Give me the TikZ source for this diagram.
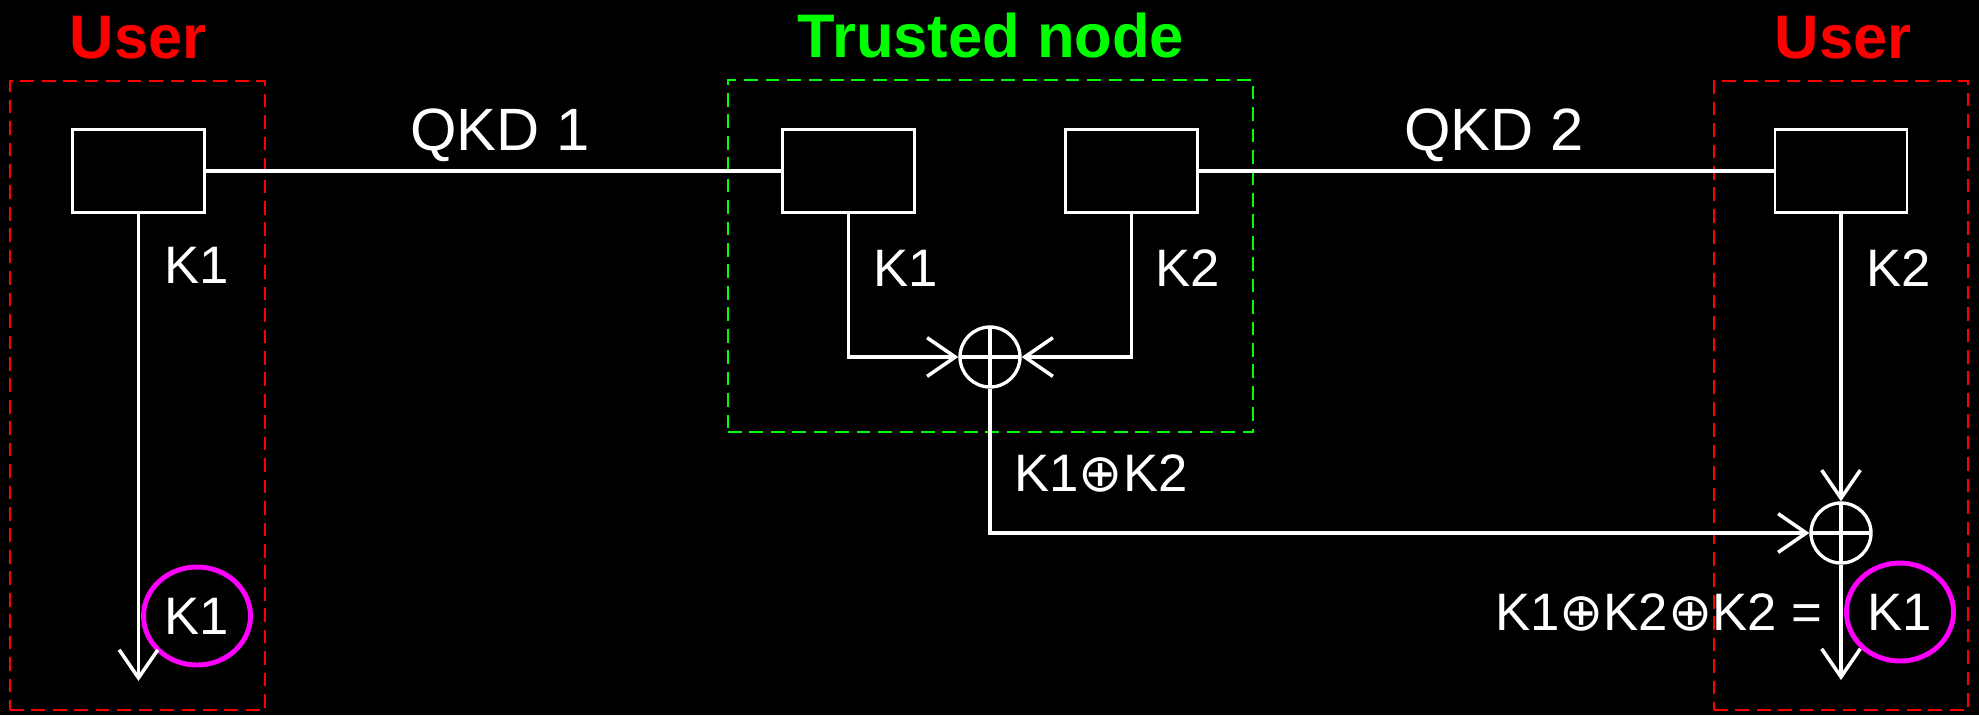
\documentclass[tikz,border=0pt]{standalone}
\usepackage{fontspec}
\setmainfont{Liberation Sans}
\newfontfamily\oplusfont{DejaVu Sans}
\newcommand{\xorsym}{{\oplusfont ⊕}}
\usepackage{xcolor}
\definecolor{userRed}{RGB}{255,0,0}
\definecolor{trustGreen}{RGB}{0,255,0}
\definecolor{keyMagenta}{RGB}{255,0,255}
\usepackage{tikz}
\usetikzlibrary{arrows.meta,shapes,positioning,calc}
\tikzstyle{dev}=[draw=white, line width=0.6pt, minimum width=1.32cm, minimum height=0.83cm, inner sep=0pt]
\tikzstyle{zone}=[line width=0.6pt, dash pattern=on 3.9pt off 2.2pt, inner sep=0pt]
\tikzstyle{title}=[font=\fontsize{17.5}{20}\selectfont\bfseries, anchor=base]
\tikzstyle{lbl}=[text=white, font=\fontsize{15}{18}\selectfont, anchor=base, inner sep=0pt]
\tikzstyle{qlbl}=[text=white, font=\fontsize{17}{20}\selectfont, anchor=base, inner sep=0pt]
\tikzstyle{xorop}=[draw=white, circle, line width=0.95pt, minimum size=0.6cm, inner sep=0pt,
  path picture={\draw[white, line width=0.95pt]
    (path picture bounding box.north) -- (path picture bounding box.south)
    (path picture bounding box.west) -- (path picture bounding box.east);}]
\tikzstyle{result}=[draw=keyMagenta, line width=1.4pt, ellipse, minimum width=1.07cm, minimum height=0.98cm,
  inner sep=0pt, text=white, font=\fontsize{15}{18}\selectfont]
\tikzstyle{link}=[white, line width=0.9pt]
\tikzstyle{keyarr}=[white, line width=1pt, -{Straight Barb[length=8pt,width=11pt]}]

\begin{document}
\begin{tikzpicture}
        \useasboundingbox (0,0) rectangle (19.79,-7.15);
        \fill[black] (0,0) rectangle (19.79,-7.15);

        \node[zone, draw=userRed, minimum width=2.55cm, minimum height=6.29cm] (zoneA) at (1.375,-3.955) {};
        \node[zone, draw=userRed, minimum width=2.54cm, minimum height=6.29cm] (zoneB) at (18.41,-3.955) {};
        \node[zone, draw=trustGreen, minimum width=5.25cm, minimum height=3.52cm] (zoneT) at (9.905,-2.56) {};
        \node[title, text=userRed] (titleA) at (1.38,-0.58) {User};
        \node[title, text=userRed] (titleB) at (18.43,-0.58) {User};
        \node[title, text=trustGreen] (titleT) at (9.91,-0.57) {Trusted node};

        \node[dev] (userA) at (1.385,-1.71) {};
        \node[dev] (trustA) at (8.485,-1.71) {};
        \node[dev] (trustB) at (11.315,-1.71) {};
        \node[dev] (userB) at (18.41,-1.71) {};
        \node[qlbl] (qkdA) at (5.00,-1.50) {QKD 1};
        \node[qlbl] (qkdB) at (14.94,-1.50) {QKD 2};

        \node[xorop] (xorT) at (9.90,-3.57) {};
        \node[xorop] (xorB) at (18.41,-5.33) {};
        \coordinate (endA) at (1.385,-6.81);
        \coordinate (endB) at (18.41,-6.80);

        \node[lbl] (kA) at (1.97,-2.83) {K1};
        \node[lbl] (kT1) at (9.06,-2.86) {K1};
        \node[lbl] (kT2) at (11.88,-2.86) {K2};
        \node[lbl] (kB) at (18.99,-2.86) {K2};
        \node[lbl] (kSum) at (11.01,-4.91) {K1\xorsym K2};
        \node[lbl, anchor=base east] (kEq) at (18.23,-6.30) {K1\xorsym K2\xorsym K2 =};
        \node[result] (resA) at (1.97,-6.16) {K1};
        \node[result] (resB) at (19.00,-6.12) {K1};

        \draw[link] (userA.east) -- (trustA.west);
        \draw[link] (trustB.east) -- (userB.west);
        \draw[keyarr] (userA.south) -- (endA);
        \draw[keyarr] (trustA.south) |- (xorT.west);
        \draw[keyarr] (trustB.south) |- (xorT.east);
        \draw[keyarr] (xorT.south) |- (xorB.west);
        \draw[keyarr] (userB.south) -- (xorB.north);
        \draw[keyarr] (xorB.south) -- (endB);
      \end{tikzpicture}
\end{document}
